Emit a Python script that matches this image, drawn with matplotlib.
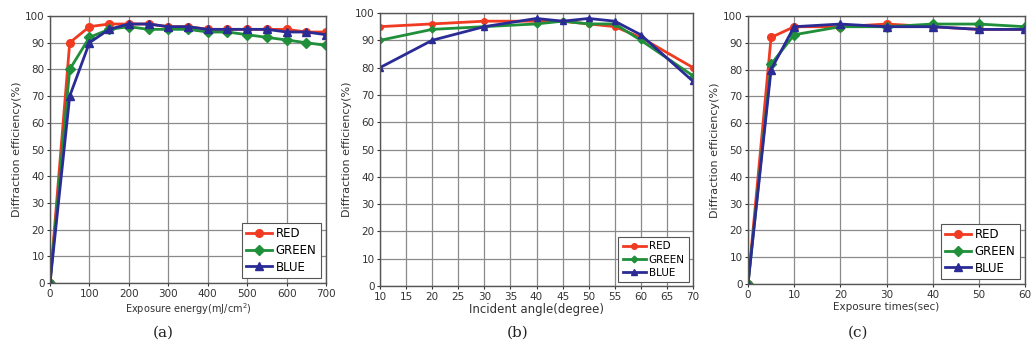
import matplotlib.pyplot as plt

# panel (a): exposure energy
energy = [0, 50, 100, 150, 200, 250, 300, 350, 400, 450, 500, 550, 600, 650, 700]
energy_red = [0, 90, 96, 97, 97, 97, 96, 96, 95, 95, 95, 95, 95, 94, 94]
energy_green = [0, 80, 92, 95, 96, 95, 95, 95, 94, 94, 93, 92, 91, 90, 89]
energy_blue = [0, 70, 90, 95, 97, 97, 96, 96, 95, 95, 95, 95, 94, 94, 93]

# panel (b): incident angle
angle = [10, 20, 30, 40, 45, 50, 55, 60, 70]
angle_red = [95, 96, 97, 97, 97, 96, 95, 91, 80]
angle_green = [90, 94, 95, 96, 97, 96, 96, 90, 77]
angle_blue = [80, 90, 95, 98, 97, 98, 97, 92, 75]

# panel (c): exposure time
times = [0, 5, 10, 20, 30, 40, 50, 60]
time_red = [0, 92, 96, 96, 97, 96, 95, 95]
time_green = [0, 82, 93, 96, 96, 97, 97, 96]
time_blue = [0, 80, 96, 97, 96, 96, 95, 95]

RED = '#f03a22'
GREEN = '#1f8f3a'
BLUE = '#2b2b96'

fig = plt.figure(figsize=(10.33, 3.49), dpi=100)

boxes = [
    (50, 16, 326, 283),
    (380, 13, 693, 286),
    (748, 16, 1025, 284),
]
W, H = 1033, 349


def make_ax(box):
    x0, y0, x1, y1 = box
    return fig.add_axes([x0 / W, 1 - y1 / H, (x1 - x0) / W, (y1 - y0) / H])


def style(ax):
    ax.grid(True, color='#8a8a8a', linewidth=0.9)
    ax.set_axisbelow(True)
    for s in ax.spines.values():
        s.set_color('#555555')
        s.set_linewidth(1.0)
    ax.tick_params(labelsize=7.5, length=2, colors='#333333', pad=2)
    ax.set_ylim(0, 100)
    ax.set_yticks(range(0, 101, 10))
    ax.set_ylabel('Diffraction efficiency(%)', fontsize=8, color='#333333', labelpad=2)


def draw(ax, x, r, g, b, ms, leg_loc, leg_size):
    ax.plot(x, r, color=RED, marker='o', ms=ms, lw=2.0, label='RED')
    ax.plot(x, g, color=GREEN, marker='D', ms=ms * 0.85, lw=2.0, label='GREEN')
    ax.plot(x, b, color=BLUE, marker='^', ms=ms, lw=2.0, label='BLUE')
    leg = ax.legend(loc=leg_loc, fontsize=leg_size, fancybox=False, framealpha=1,
                    edgecolor='#555555', handlelength=2.2, handletextpad=0.3,
                    borderpad=0.4, labelspacing=0.3, borderaxespad=0.4)
    leg.get_frame().set_linewidth(0.8)


ax1 = make_ax(boxes[0])
style(ax1)
draw(ax1, energy, energy_red, energy_green, energy_blue, 5.5, 'lower right', 8.5)
ax1.set_xlim(0, 700)
ax1.set_xticks(range(0, 701, 100))
ax1.set_xlabel('Exposure energy(mJ/cm$^2$)', fontsize=7, color='#333333', labelpad=2)

ax2 = make_ax(boxes[1])
style(ax2)
draw(ax2, angle, angle_red, angle_green, angle_blue, 4, 'lower right', 7.5)
ax2.set_xlim(10, 70)
ax2.set_xticks(range(10, 71, 5))
ax2.set_xlabel('Incident angle(degree)', fontsize=8.5, color='#333333', labelpad=1)

ax3 = make_ax(boxes[2])
style(ax3)
draw(ax3, times, time_red, time_green, time_blue, 5.5, 'lower right', 8.5)
ax3.set_xlim(0, 60)
ax3.set_xticks(range(0, 61, 10))
ax3.set_xlabel('Exposure times(sec)', fontsize=7.5, color='#333333', labelpad=2)

for label, xc in [('(a)', 163), ('(b)', 518), ('(c)', 858)]:
    fig.text(xc / W, 1 - 333 / H, label, ha='center', va='center',
             fontsize=11, family='DejaVu Serif', color='#222222')

fig.savefig('out.png', dpi=100)
